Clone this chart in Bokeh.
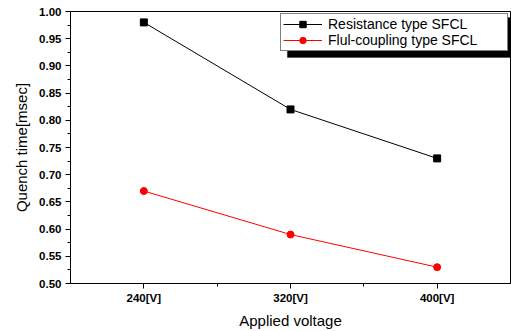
from bokeh.plotting import figure
from bokeh.models import FixedTicker, NumeralTickFormatter, Legend, LegendItem, BoxAnnotation, Range1d
from bokeh.embed import file_html
from bokeh.resources import INLINE

voltages = [240, 320, 400]
tick_labels = ["240[V]", "320[V]", "400[V]"]
resistance = [0.98, 0.82, 0.73]
flux = [0.67, 0.59, 0.53]
series_names = ["Resistance type SFCL", "Flul-coupling type SFCL"]

p = figure(width=511, height=331, output_backend="svg", toolbar_location=None,
           x_range=Range1d(200, 440), y_range=Range1d(0.5, 1.0),
           min_border_left=70, min_border_right=1, min_border_top=11, min_border_bottom=48)
p.xgrid.visible = False
p.ygrid.visible = False
p.outline_line_color = "black"
p.outline_line_width = 1

font = "Liberation Sans"

# shadow of legend box (behind legend)
shadow = BoxAnnotation(left=318.3, right=445, top=0.98897, bottom=0.9155,
                       fill_color="black", fill_alpha=1.0, line_color="black", line_width=1)
p.add_layout(shadow)

r1 = p.line(voltages, resistance, line_color="black", line_width=1)
m1 = p.scatter(voltages, resistance, marker="square", size=7, fill_color="black", line_color="black")
r2 = p.line(voltages, flux, line_color="red", line_width=1)
m2 = p.scatter(voltages, flux, marker="circle", size=7, fill_color="red", line_color="red")

# axes
p.xaxis.ticker = FixedTicker(ticks=voltages, minor_ticks=[280, 360])
p.xaxis.major_label_overrides = {v: t for v, t in zip(voltages, tick_labels)}
p.yaxis.ticker = FixedTicker(ticks=[0.5 + 0.05 * i for i in range(11)],
                             minor_ticks=[0.525 + 0.05 * i for i in range(10)])
p.yaxis.formatter = NumeralTickFormatter(format="0.00")
for ax in (p.xaxis[0], p.yaxis[0]):
    ax.axis_line_color = "black"
    ax.major_tick_line_color = "black"
    ax.minor_tick_line_color = "black"
    ax.major_tick_out = 5
    ax.major_tick_in = 0
    ax.minor_tick_out = 3
    ax.minor_tick_in = 0
    ax.major_label_text_font = font
    ax.major_label_text_font_style = "bold"
    ax.major_label_text_font_size = "11.5px"
    ax.major_label_text_color = "black"
    ax.axis_label_text_font = font
    ax.axis_label_text_font_style = "normal"
    ax.axis_label_text_font_size = "15px"
    ax.axis_label_text_color = "black"
p.xaxis.axis_label = "Applied voltage"
p.yaxis.axis_label = "Quench time[msec]"
p.yaxis.major_label_standoff = 4
p.xaxis.major_label_standoff = 3
p.xaxis.axis_label_standoff = 5
p.yaxis.axis_label_standoff = 6

legend = Legend(items=[LegendItem(label=series_names[0], renderers=[r1, m1]),
                       LegendItem(label=series_names[1], renderers=[r2, m2])],
                location="top_right", orientation="vertical",
                border_line_color="black", border_line_width=1,
                background_fill_color="white", background_fill_alpha=1.0,
                padding=2, margin=2, spacing=0, glyph_width=39, glyph_height=16,
                label_height=16, label_width=177, label_standoff=6,
                label_text_font=font, label_text_font_size="14px", label_text_color="black")
p.add_layout(legend)

open("out.html", "w").write(file_html(p, INLINE))
